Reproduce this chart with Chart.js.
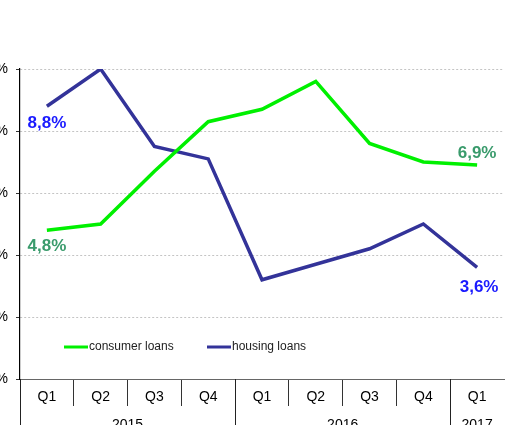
<!DOCTYPE html>
<html><head><meta charset="utf-8">
<script src="https://cdn.jsdelivr.net/npm/chart.js@4.4.1/dist/chart.umd.min.js"></script>
<style>html,body{margin:0;padding:0;background:#fff;overflow:hidden}#wrap{position:relative;width:508px;height:425px}</style>
</head><body><div id="wrap"><canvas id="c" width="508" height="425"></canvas></div>
<script>
const quarters = ['Q1','Q2','Q3','Q4','Q1','Q2','Q3','Q4','Q1'];
const years = ['2015','2015','2015','2015','2016','2016','2016','2016','2017'];
const consumerLoans = [4.8, 5.0, 6.7, 8.3, 8.7, 9.6, 7.6, 7.0, 6.9];
const housingLoans = [8.8, 10.0, 7.5, 7.1, 3.2, 3.7, 4.2, 5.0, 3.6];
const seriesNames = ['consumer loans', 'housing loans'];
const yMin = 0, yMax = 10, yStep = 2;

const FONT = '"Liberation Sans", Arial, sans-serif';

const yearAxisPlugin = {
  id: 'yearAxis',
  afterDraw(chart) {
    const x = chart.scales.x, ctx = chart.ctx;
    const top = chart.chartArea.bottom, bottom = chart.height;
    const groups = [];
    years.forEach((y, i) => {
      const g = groups[groups.length - 1];
      if (!g || g.label !== y) groups.push({label: y, start: i, end: i});
      else g.end = i;
    });
    const half = (x.getPixelForValue(1) - x.getPixelForValue(0)) / 2;
    ctx.save();
    ctx.strokeStyle = '#222';
    ctx.lineWidth = 1;
    ctx.fillStyle = '#000';
    ctx.font = '14px ' + FONT;
    ctx.textAlign = 'center';
    ctx.textBaseline = 'middle';
    groups.forEach(g => {
      const l = x.getPixelForValue(g.start) - half;
      const r = x.getPixelForValue(g.end) + half;
      const lx = Math.round(l) + 0.5;
      ctx.beginPath(); ctx.moveTo(lx, top); ctx.lineTo(lx, bottom); ctx.stroke();
      ctx.fillText(g.label, (l + r) / 2, 425);
    });
    ctx.restore();
  }
};

const valueLabelPlugin = {
  id: 'valueLabels',
  afterDatasetsDraw(chart, args, opts) {
    const ctx = chart.ctx;
    ctx.save();
    ctx.font = 'bold 17px ' + FONT;
    ctx.textAlign = 'center';
    ctx.textBaseline = 'middle';
    opts.items.forEach(it => {
      const pt = chart.getDatasetMeta(it.ds).data[it.i];
      const v = chart.data.datasets[it.ds].data[it.i];
      ctx.fillStyle = it.color;
      ctx.fillText(v.toFixed(1).replace('.', ',') + '%', pt.x + it.dx, pt.y + it.dy);
    });
    ctx.restore();
  }
};

const innerLegendPlugin = {
  id: 'innerLegend',
  afterDraw(chart, args, opts) {
    const ctx = chart.ctx;
    ctx.save();
    ctx.font = '12px ' + FONT;
    ctx.textBaseline = 'middle';
    ctx.textAlign = 'left';
    chart.data.datasets.forEach((ds, k) => {
      const x0 = opts.xs[k], y = opts.y;
      ctx.strokeStyle = ds.borderColor;
      ctx.lineWidth = 3;
      ctx.beginPath(); ctx.moveTo(x0, y); ctx.lineTo(x0 + 24, y); ctx.stroke();
      ctx.fillStyle = '#222';
      ctx.fillText(ds.label, x0 + 25, y);
    });
    ctx.restore();
  }
};

new Chart(document.getElementById('c'), {
  type: 'line',
  data: {
    labels: quarters,
    datasets: [
      {label: seriesNames[0], data: consumerLoans, borderColor: '#00f000', borderWidth: 3.5, pointRadius: 0, tension: 0, fill: false},
      {label: seriesNames[1], data: housingLoans, borderColor: '#333399', borderWidth: 3.5, pointRadius: 0, tension: 0, fill: false}
    ]
  },
  options: {
    responsive: false,
    animation: false,
    devicePixelRatio: 1,
    layout: {padding: {top: 69, right: 4, left: 0, bottom: 0}},
    plugins: {
      legend: {display: false},
      tooltip: {enabled: false},
      valueLabels: {items: [
        {ds: 1, i: 0, dx: 0, dy: 17, color: '#1a1aff'},
        {ds: 0, i: 0, dx: 0, dy: 16, color: '#3a9b6c'},
        {ds: 0, i: 8, dx: 0, dy: -12, color: '#3a9b6c'},
        {ds: 1, i: 8, dx: 2, dy: 20, color: '#1a1aff'}
      ]},
      innerLegend: {xs: [64, 207], y: 347}
    },
    scales: {
      x: {
        type: 'category',
        offset: true,
        afterFit(s) { s.height = 46; },
        grid: {offset: true, drawOnChartArea: false, drawTicks: true, tickLength: 27,
          tickColor: (c) => (c.type === 'tick' ? '#333' : 'rgba(0,0,0,0)'), tickWidth: 1},
        border: {display: true, color: '#666', width: 1},
        ticks: {color: '#000', font: {size: 14, family: FONT}, padding: -17, maxRotation: 0, autoSkip: false}
      },
      y: {
        min: yMin, max: yMax,
        afterFit(s) { s.width = 20; },
        grid: {color: '#c4c4c4', lineWidth: 1, drawTicks: true, tickLength: 4, tickColor: '#333', tickBorderDash: []},
        border: {display: true, color: '#000', width: 1.2, dash: [2, 2]},
        ticks: {stepSize: yStep, color: '#000', font: {size: 14, family: FONT}, padding: 8,
          callback: (v) => v + '%'}
      }
    }
  },
  plugins: [yearAxisPlugin, valueLabelPlugin, innerLegendPlugin]
});
</script>
</body></html>
